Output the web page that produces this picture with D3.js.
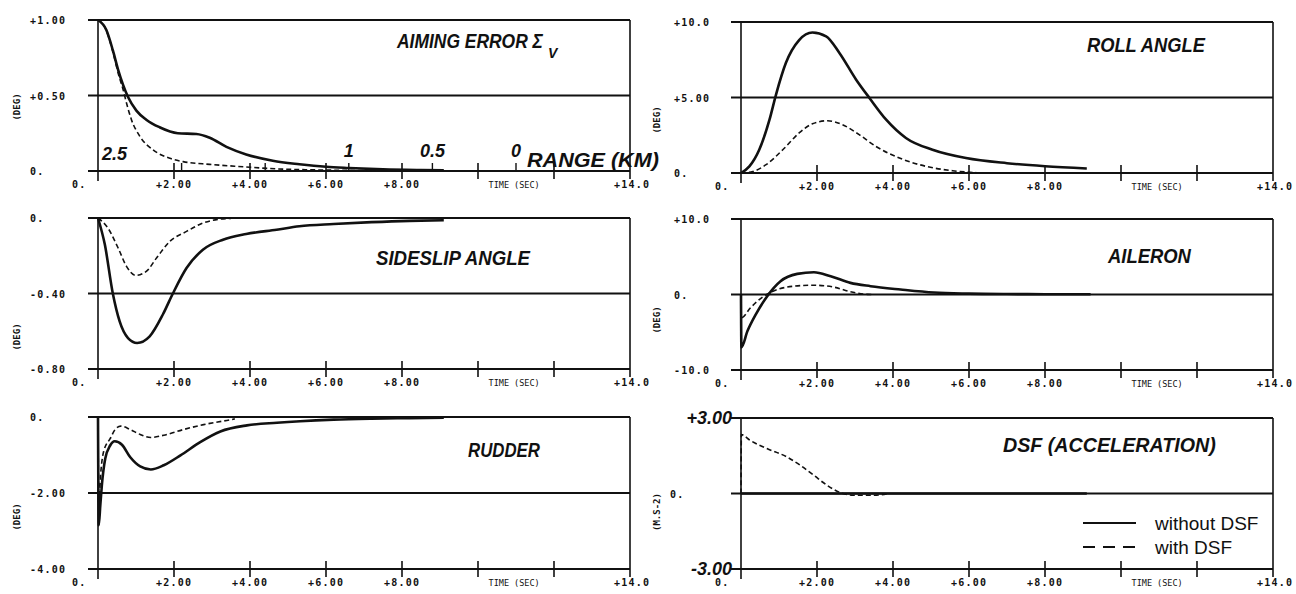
<!DOCTYPE html>
<html><head><meta charset="utf-8">
<script src="https://cdn.jsdelivr.net/npm/d3@7"></script>
<style>body{margin:0;background:#fff} svg{display:block}</style>
</head><body><svg id="c" width="1296" height="594"></svg>
<script>
// ---------- data ----------
const timeTicks = [2, 4, 6, 8, 10, 12];
const timeLabels = [[0, "0."], [2, "+2.00"], [4, "+4.00"], [6, "+6.00"], [8, "+8.00"]];
const timeTitle = "TIME (SEC)";
const timeEndLabel = "+14.0";

const aimingYTicks = [1, 0.5, 0];
const aimingYLabels = ["+1.00", "+0.50", "0."];
const rollYTicks = [10, 5, 0];
const rollYLabels = ["+10.0", "+5.00", "0."];
const sideslipYTicks = [0, -0.4, -0.8];
const sideslipYLabels = ["0.", "-0.40", "-0.80"];
const aileronYTicks = [10, 0, -10];
const aileronYLabels = ["+10.0", "0.", "-10.0"];
const rudderYTicks = [0, -2, -4];
const rudderYLabels = ["0.", "-2.00", "-4.00"];
const dsfYTicks = [3, 0, -3];
const dsfYLabels = ["+3.00", "0.", "-3.00"];

const rangeTicks = [0, 2.2, 4.4, 6.6, 8.8, 11.0];       // time (s) of range marks
const rangeLabels = ["2.5", "", "", "1", "0.5", "0"];    // km

const aimingWithout = [[0,1.0],[0.22,0.934],[0.39,0.80],[0.53,0.67],[0.66,0.57],[0.79,0.49],[1.01,0.40],[1.27,0.34],[1.62,0.29],[2.1,0.25],[2.59,0.245],[2.94,0.22],[3.38,0.16],[3.9,0.11],[4.6,0.068],[5.3,0.045],[6.0,0.028],[6.6,0.02],[7.5,0.011],[8.5,0.006],[9.1,0.004]];
const aimingWith = [[0,1.0],[0.22,0.93],[0.39,0.79],[0.55,0.63],[0.66,0.54],[0.75,0.45],[0.88,0.34],[1.1,0.23],[1.45,0.14],[1.89,0.084],[2.24,0.062],[2.94,0.044],[3.82,0.028],[4.7,0.014],[5.6,0.008],[6.6,0.004],[7.2,0.003]];
const rollWithout = [[0,0],[0.22,0.44],[0.48,1.54],[0.75,3.53],[0.92,5.18],[1.18,7.28],[1.53,8.8],[1.88,9.3],[2.24,9.05],[2.59,7.95],[3.03,6.18],[3.38,4.97],[3.82,3.53],[4.34,2.32],[5.04,1.54],[5.92,0.99],[7.0,0.65],[8.0,0.45],[9.1,0.3]];
const rollWith = [[0,0],[0.31,0.1],[0.66,0.55],[1.1,1.54],[1.53,2.65],[1.88,3.26],[2.28,3.46],[2.67,3.2],[3.11,2.54],[3.55,1.76],[4.17,0.99],[4.87,0.44],[5.57,0.15],[6.2,0.02]];
const sideslipWithout = [[0,0],[0.18,-0.141],[0.39,-0.40],[0.57,-0.548],[0.79,-0.636],[1.03,-0.662],[1.36,-0.627],[1.71,-0.51],[1.97,-0.40],[2.33,-0.265],[2.76,-0.168],[3.29,-0.115],[3.9,-0.085],[4.7,-0.062],[5.3,-0.044],[6.2,-0.032],[7.2,-0.022],[8.2,-0.015],[9.1,-0.012]];
const sideslipWith = [[0,0],[0.26,-0.053],[0.53,-0.159],[0.75,-0.256],[0.99,-0.304],[1.27,-0.283],[1.54,-0.212],[1.89,-0.124],[2.33,-0.071],[2.76,-0.027],[3.2,-0.006],[3.5,-0.002]];
const aileronWithout = [[0,0],[0.01,-7.0],[0.17,-4.85],[0.39,-2.64],[0.69,-0.22],[1.04,1.76],[1.48,2.73],[1.92,2.95],[2.36,2.42],[2.88,1.54],[3.41,1.1],[4.2,0.66],[5.08,0.26],[6.0,0.12],[7.0,0.06],[8.0,0.04],[9.2,0.03]];
const aileronWith = [[0,0],[0.01,-3.08],[0.25,-1.76],[0.6,-0.22],[0.96,0.66],[1.39,1.1],[1.92,1.23],[2.45,0.97],[2.88,0.36],[3.33,0.02],[3.5,0]];
const rudderWithout = [[0,0],[0.02,-2.85],[0.06,-2.33],[0.1,-1.81],[0.19,-1.1],[0.32,-0.75],[0.44,-0.64],[0.63,-0.73],[0.85,-1.06],[1.11,-1.30],[1.39,-1.38],[1.73,-1.27],[2.17,-1.01],[2.69,-0.66],[3.22,-0.38],[3.92,-0.22],[4.71,-0.15],[5.32,-0.11],[6.2,-0.07],[7.2,-0.045],[8.2,-0.03],[9.1,-0.02]];
const rudderWith = [[0,0],[0.02,-2.3],[0.07,-1.5],[0.15,-0.9],[0.32,-0.57],[0.45,-0.33],[0.6,-0.24],[0.85,-0.33],[1.11,-0.46],[1.39,-0.54],[1.73,-0.48],[2.25,-0.33],[2.78,-0.2],[3.39,-0.09],[3.6,-0.05]];
const dsfWithout = [[0,0],[9.1,0]];
const dsfWith = [[0,0],[0.01,2.34],[0.24,2.11],[0.68,1.79],[1.21,1.45],[1.56,1.12],[1.91,0.73],[2.26,0.33],[2.61,0.04],[2.96,-0.07],[3.49,-0.07],[3.9,0]];

const legendLabels = ["without DSF", "with DSF"];

// ---------- layout ----------
const W = 532;
const panels = [
  {x0:98,  top:20,  bottom:171, dom:[0,1],      ticks:aimingYTicks,   labels:aimingYLabels,   unit:"(DEG)",   unitY:107, title:"AIMING ERROR Σ", sub:"V", tx:397, ty:48, tl:146, solid:aimingWithout,   dashed:aimingWith, range:true},
  {x0:741, top:22,  bottom:173, dom:[0,10],     ticks:rollYTicks,     labels:rollYLabels,     unit:"(DEG)",   unitY:120, title:"ROLL ANGLE", tx:1087, ty:52, tl:118, solid:rollWithout, dashed:rollWith},
  {x0:98,  top:218, bottom:369, dom:[-0.8,0],   ticks:sideslipYTicks, labels:sideslipYLabels, unit:"(DEG)",   unitY:337, title:"SIDESLIP ANGLE", tx:376, ty:265, tl:154, solid:sideslipWithout, dashed:sideslipWith},
  {x0:741, top:219, bottom:370, dom:[-10,10],   ticks:aileronYTicks,  labels:aileronYLabels,  unit:"(DEG)",   unitY:320, title:"AILERON", tx:1108, ty:263, tl:83, solid:aileronWithout, dashed:aileronWith},
  {x0:98,  top:417, bottom:569, dom:[-4,0],     ticks:rudderYTicks,   labels:rudderYLabels,   unit:"(DEG)",   unitY:517, title:"RUDDER", tx:468, ty:457, tl:72, solid:rudderWithout, dashed:rudderWith},
  {x0:741, top:418, bottom:569, dom:[-3,3],     ticks:dsfYTicks,      labels:dsfYLabels,      unit:"(M.S-2)", unitY:512, title:"DSF (ACCELERATION)", tx:1003, ty:452, tl:213, solid:dsfWithout, dashed:dsfWith, italicEnds:true, legend:true}
];

const svg = d3.select("#c");
svg.append("rect").attr("width",1296).attr("height",594).attr("fill","#fff");
const ink = "#111";
const monoFont = "'DejaVu Sans Mono', monospace";
const titleFont = "'Liberation Sans', Arial, Helvetica, sans-serif";

// text fitted to a width by horizontal scaling (keeps bbox honest)
function fitText(g, str, x, y, width, size) {
  const t = g.append("text").attr("x", 0).attr("y", 0)
    .attr("font-family", titleFont).attr("font-style", "italic").attr("font-weight", "bold")
    .attr("font-size", size).attr("fill", ink).text(str);
  const w = t.node().getComputedTextLength() || width;
  t.attr("transform", `translate(${x},${y}) scale(${width / w},1)`);
  return t;
}

panels.forEach((p, i) => {
  const g = svg.append("g");
  const x = d3.scaleLinear().domain([0,14]).range([p.x0, p.x0 + W]);
  const y = d3.scaleLinear().domain(p.dom).range([p.bottom, p.top]);
  const labelX = p.x0 < 400 ? 30 : 674;

  // horizontal grid/frame lines
  g.selectAll("line.h").data(p.ticks).join("line")
    .attr("x1", p.x0 - 10).attr("x2", x(14))
    .attr("y1", d => y(d)).attr("y2", d => y(d))
    .attr("stroke", ink).attr("stroke-width", 2);
  // left & right borders
  g.append("line").attr("x1", x(0)).attr("x2", x(0)).attr("y1", p.top).attr("y2", p.bottom + 10)
    .attr("stroke", ink).attr("stroke-width", 1.6);
  g.append("line").attr("x1", x(14)).attr("x2", x(14)).attr("y1", p.top).attr("y2", p.bottom + 8)
    .attr("stroke", ink).attr("stroke-width", 1.6);
  // time ticks
  g.selectAll("line.t").data(timeTicks).join("line")
    .attr("x1", d => x(d)).attr("x2", d => x(d))
    .attr("y1", p.bottom - 8).attr("y2", p.bottom + 8)
    .attr("stroke", ink).attr("stroke-width", 1.6);

  // x labels
  g.selectAll("text.xl").data(timeLabels).join("text")
    .attr("x", d => x(d[0]) - (d[0] === 0 ? 26 : 18)).attr("y", p.bottom + 17)
    .attr("font-family", monoFont).attr("font-size", 10).attr("font-weight", "bold")
    .attr("letter-spacing", 1.2).attr("fill", ink).text(d => d[1]);
  g.append("text").attr("x", x(10.95)).attr("y", p.bottom + 17).attr("text-anchor", "middle")
    .attr("font-family", monoFont).attr("font-size", 9).attr("fill", ink)
    .attr("textLength", 51).attr("lengthAdjust", "spacingAndGlyphs").text(timeTitle);
  g.append("text").attr("x", x(14) - 16).attr("y", p.bottom + 17)
    .attr("font-family", monoFont).attr("font-size", 10).attr("font-weight", "bold")
    .attr("letter-spacing", 1.2).attr("fill", ink).text(timeEndLabel);

  // y labels
  p.ticks.forEach((v, k) => {
    const lab = p.labels[k];
    if (p.italicEnds && lab !== "0.") {
      g.append("text").attr("x", x(0) - 9).attr("y", y(v) + 6).attr("text-anchor", "end")
        .attr("font-family", titleFont).attr("font-style", "italic").attr("font-weight", "bold")
        .attr("font-size", 18).attr("fill", ink).text(lab);
    } else {
      g.append("text").attr("x", p.italicEnds ? 670 : labelX).attr("y", y(v) + 4)
        .attr("font-family", monoFont).attr("font-size", 10).attr("font-weight", "bold")
        .attr("letter-spacing", 1.2).attr("fill", ink).text(lab);
    }
  });
  // unit label
  const ux = p.x0 < 400 ? 17 : 657;
  g.append("text").attr("transform", `translate(${ux + 3},${p.unitY}) rotate(-90)`)
    .attr("text-anchor", "middle").attr("font-family", monoFont).attr("font-size", 9)
    .attr("font-weight", "bold").attr("fill", ink).text(p.unit);

  // title
  fitText(g, p.title, p.tx, p.ty, p.tl, 20);
  if (p.sub) {
    g.append("text").attr("x", p.tx + p.tl + 5).attr("y", p.ty + 10)
      .attr("font-family", titleFont).attr("font-style", "italic").attr("font-weight", "bold")
      .attr("font-size", 14).attr("fill", ink).text(p.sub);
  }

  // range axis (aiming error panel)
  if (p.range) {
    g.selectAll("line.r").data(rangeTicks.slice(1)).join("line")
      .attr("x1", d => x(d)).attr("x2", d => x(d))
      .attr("y1", p.bottom - 8).attr("y2", p.bottom)
      .attr("stroke", ink).attr("stroke-width", 1.4);
    rangeTicks.forEach((t, k) => {
      if (!rangeLabels[k]) return;
      g.append("text").attr("x", k === 0 ? x(t) + 4 : x(t))
        .attr("y", k === 0 ? p.bottom - 11 : p.bottom - 14)
        .attr("text-anchor", k === 0 ? "start" : "middle")
        .attr("font-family", titleFont).attr("font-style", "italic").attr("font-weight", "bold")
        .attr("font-size", 18).attr("fill", ink).text(rangeLabels[k]);
    });
    fitText(g, "RANGE (KM)", 527, p.bottom - 4, 132, 20);
  }

  // curves
  const line = d3.line().x(d => x(d[0])).y(d => y(d[1])).curve(d3.curveMonotoneX);
  g.append("path").datum(p.dashed).attr("d", line).attr("fill", "none")
    .attr("stroke", ink).attr("stroke-width", 1.6).attr("stroke-dasharray", "5,3");
  g.append("path").datum(p.solid).attr("d", line).attr("fill", "none")
    .attr("stroke", ink).attr("stroke-width", 2.6).attr("stroke-linejoin", "round");

  // legend
  if (p.legend) {
    const ly = [523, 547];
    g.append("line").attr("x1", 1083).attr("x2", 1136).attr("y1", ly[0]).attr("y2", ly[0])
      .attr("stroke", ink).attr("stroke-width", 2);
    g.append("line").attr("x1", 1083).attr("x2", 1136).attr("y1", ly[1]).attr("y2", ly[1])
      .attr("stroke", ink).attr("stroke-width", 2).attr("stroke-dasharray", "12,8");
    legendLabels.forEach((s, k) => {
      g.append("text").attr("x", 1155).attr("y", ly[k] + 7)
        .attr("font-family", titleFont).attr("font-size", 19).attr("fill", ink).text(s);
    });
  }
});
</script>
</body></html>
